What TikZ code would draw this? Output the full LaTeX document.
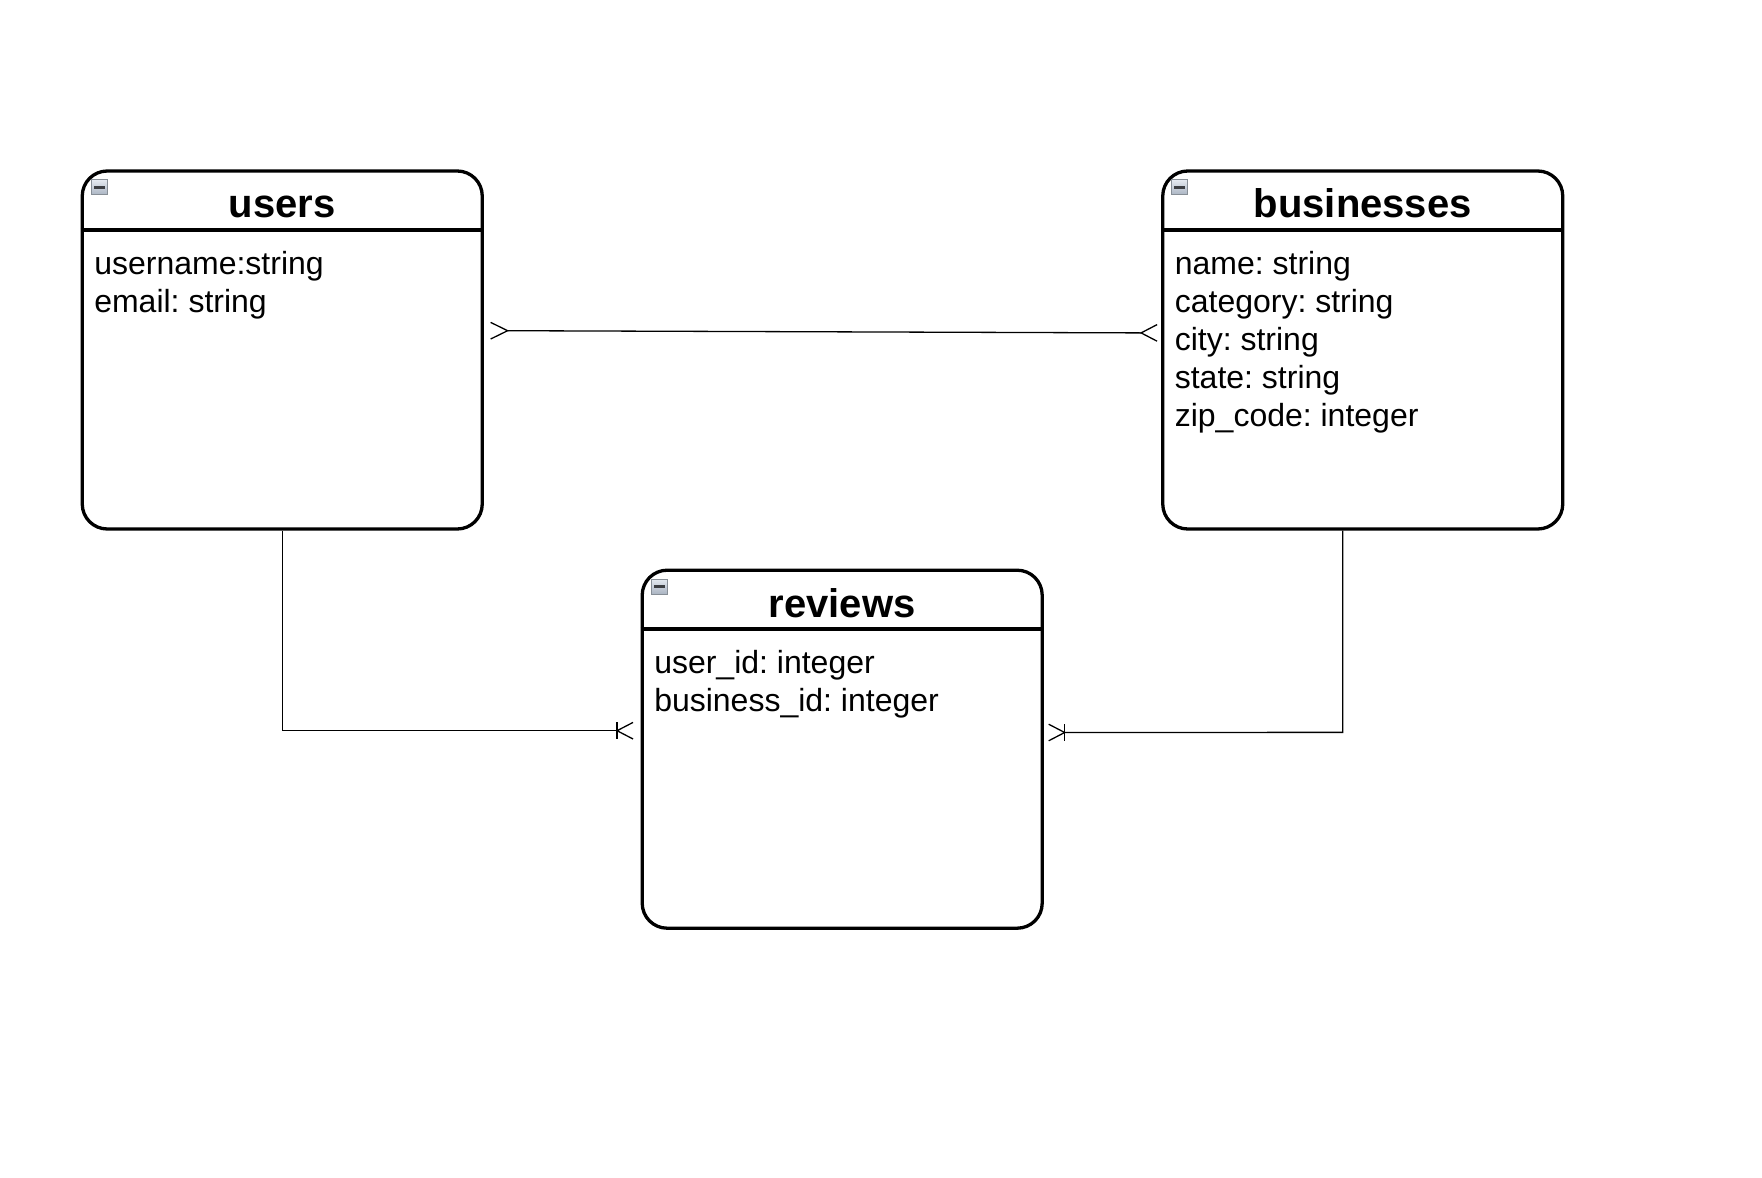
\documentclass[tikz,border=0pt]{standalone}
\usepackage{fontspec}
\setmainfont{Liberation Sans}
\usetikzlibrary{calc}
\frenchspacing
\tikzset{
  entity/.style={draw=black, line width=3.3pt, rounded corners=25pt,
    minimum width=400pt, minimum height=358pt, inner sep=0pt},
  hdrline/.style={draw=black, line width=3.3pt},
  conn/.style={draw=black, line width=1.3pt},
  etitle/.style={font=\fontsize{40}{48}\selectfont\bfseries, anchor=base, inner sep=0pt},
  field/.style={font=\fontsize{32}{38}\selectfont, anchor=base west, inner sep=0pt},
  iconbox/.style={draw=iconborder, line width=0.9pt, top color=icontop, bottom color=iconbot,
    minimum width=16pt, minimum height=15pt, inner sep=0pt},
}
\definecolor{iconborder}{RGB}{135,142,150}
\definecolor{icontop}{RGB}{228,233,240}
\definecolor{iconbot}{RGB}{170,180,194}
\definecolor{iconbar}{RGB}{60,62,66}
\newcommand{\erentity}[5]{% name, x, y, title, fields
  \node[entity] (#1) at (#2,#3) {};
  \draw[hdrline] ($(#1.north west)+(0,60.5)$) -- ($(#1.north east)+(0,60.5)$);
  \node[etitle] (#1-title) at ($(#1.north)+(0,48.5)$) {#4};
  \node[iconbox] (#1-icon) at ($(#1.north west)+(18.5,18)$) {};
  \fill[iconbar] ($(#1-icon.center)+(-5.5,-1.3)$) rectangle ($(#1-icon.center)+(5.5,1.3)$);
  \foreach \txt [count=\i from 0] in {#5} {
    \node[field] (#1-f\i) at ($(#1.north west)+(13.5,105+38*\i)$) {\txt};
  }
}
\begin{document}
\begin{tikzpicture}[x=1pt,y=-1pt]
\useasboundingbox[fill=white] (0,0) rectangle (1762,1178);

\erentity{users}{282.25}{350}{users}{username:string,email: string}
\erentity{businesses}{1362.75}{350}{businesses}{name: string,category: string,city: string,state: string,zip\_code: integer}
\erentity{reviews}{842.2}{749.2}{reviews}{user\_id: integer,business\_id: integer}

% users -- businesses (many to many)
\coordinate (ua) at ($(users.east)+(23.75,-19.3)$);
\coordinate (ba) at ($(businesses.west)+(-20,-17.1)$);
\draw[conn] (ua) -- (ba);
\draw[conn] ($(ua)+(-17,-8.3)$) -- (ua) -- ($(ua)+(-17,8.3)$);
\draw[conn] ($(ba)+(16,-8.3)$) -- (ba) -- ($(ba)+(16,8.3)$);

% users -> reviews (one to many)
\coordinate (rl) at ($(reviews.west)+(-23.5,-18.5)$);
\draw[conn] (users.south) |- (rl);
\draw[conn] ($(rl)+(0,-8.3)$) -- ($(rl)+(0,8.3)$);
\draw[conn] ($(rl)+(16,-8.3)$) -- (rl) -- ($(rl)+(16,8.3)$);

% businesses -> reviews (one to many)
\coordinate (bs) at ($(businesses.south)+(-20,0)$);
\coordinate (bc) at ($(businesses.south)+(-20,201.7)$);
\coordinate (rr) at ($(reviews.east)+(20.8,-16.7)$);
\draw[conn] (bs) -- (bc) -- (rr);
\draw[conn] ($(rr)+(0,-8.3)$) -- ($(rr)+(0,8.3)$);
\draw[conn] ($(rr)+(-16,-8.3)$) -- (rr) -- ($(rr)+(-16,8.3)$);
\end{tikzpicture}
\end{document}
